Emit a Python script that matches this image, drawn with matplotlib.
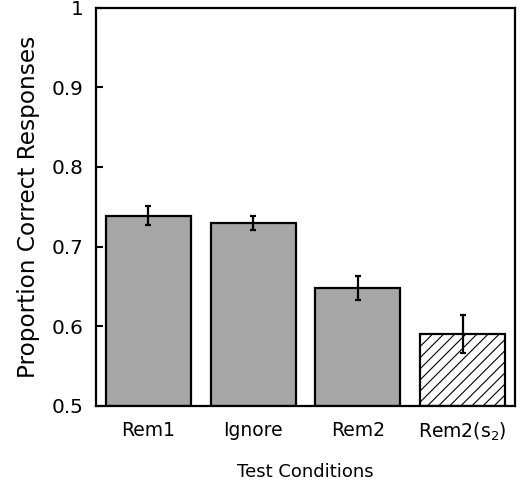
import numpy as np
import matplotlib.pyplot as plt

conditions = ["Rem1", "Ignore", "Rem2", r"Rem2(s$\mathregular{_2}$)"]
means = [0.739, 0.730, 0.648, 0.590]
errors = [0.012, 0.009, 0.015, 0.024]
yticks = [0.5, 0.6, 0.7, 0.8, 0.9, 1.0]
ytick_labels = ["0.5", "0.6", "0.7", "0.8", "0.9", "1"]

plt.rcParams['font.family'] = 'DejaVu Sans'
plt.rcParams['hatch.linewidth'] = 0.8

fig = plt.figure(figsize=(5.24, 4.86), dpi=100)
ax = fig.add_axes([0.183, 0.165, 0.8, 0.819])

x = np.arange(len(conditions))
colors = ["#a6a6a6", "#a6a6a6", "#a6a6a6", "white"]
hatches = [None, None, None, "///"]
for xi, m, e, c, h in zip(x, means, errors, colors, hatches):
    ax.bar(xi, m - 0.5, bottom=0.5, width=0.81, color=c, edgecolor="black",
           linewidth=1.6, hatch=h, zorder=2)
    ax.errorbar(xi, m, yerr=e, color="black", capsize=2, elinewidth=1.6,
                capthick=1.6, zorder=3)

ax.set_xlim(-0.5, 3.5)
ax.set_ylim(0.5, 1.0)
ax.set_xticks(x)
ax.set_xticklabels(conditions, fontsize=13.5)
ax.set_yticks(yticks)
ax.set_yticklabels(ytick_labels, fontsize=14.4)
ax.tick_params(axis="x", length=0, pad=11)
ax.tick_params(axis="y", direction="in", length=5, width=1.5, pad=9)
for s in ax.spines.values():
    s.set_linewidth(1.6)

ax.set_xlabel("Test Conditions", fontsize=13, labelpad=14)
ax.set_ylabel("Proportion Correct Responses", fontsize=16.7, labelpad=8)

fig.savefig("out.png", dpi=100)
